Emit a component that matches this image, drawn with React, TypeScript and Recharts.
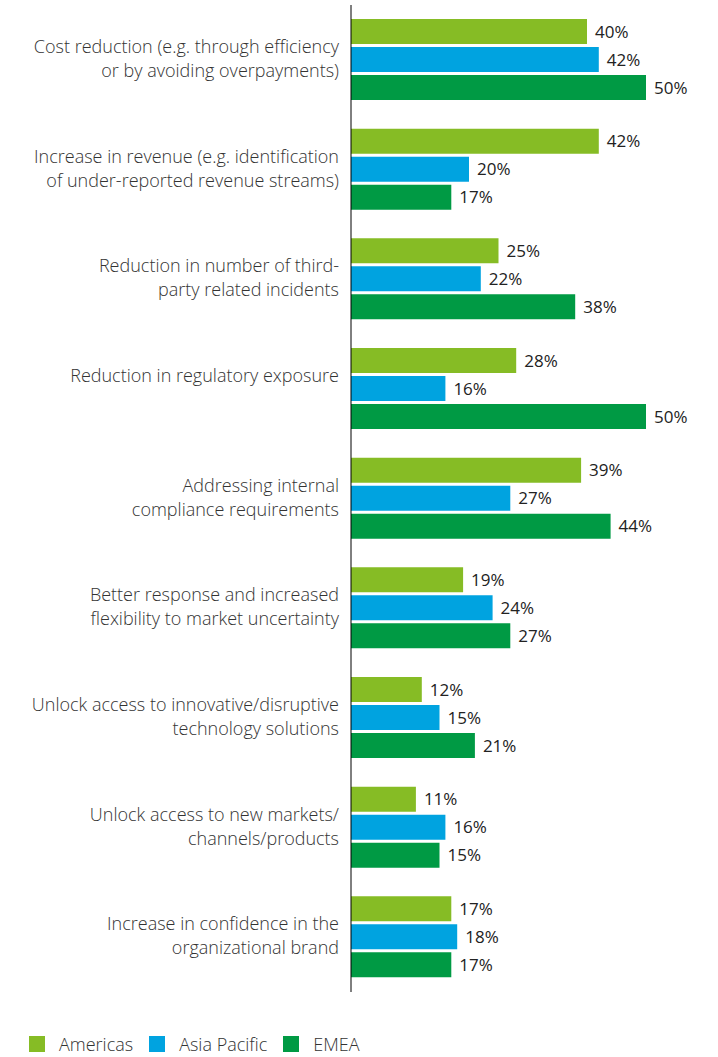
import { BarChart, Bar, XAxis, YAxis, LabelList } from 'recharts';

const categories = [
  'Cost reduction (e.g. through efficiency\nor by avoiding overpayments)',
  'Increase in revenue (e.g. identification\nof under-reported revenue streams)',
  'Reduction in number of third-\nparty related incidents',
  'Reduction in regulatory exposure',
  'Addressing internal\ncompliance requirements',
  'Better response and increased\nflexibility to market uncertainty',
  'Unlock access to innovative/disruptive\ntechnology solutions',
  'Unlock access to new markets/\nchannels/products',
  'Increase in confidence in the\norganizational brand',
];

const americas = [40, 42, 25, 28, 39, 19, 12, 11, 17];
const asiaPacific = [42, 20, 22, 16, 27, 24, 15, 16, 18];
const emea = [50, 17, 38, 50, 44, 27, 21, 15, 17];

const seriesNames = ['Americas', 'Asia Pacific', 'EMEA'];
const colors = ['#86BC25', '#00A3E0', '#009A44'];

const data = categories.map((name, i) => ({
  name,
  americas: americas[i],
  asiaPacific: asiaPacific[i],
  emea: emea[i],
}));

const FONT = '"Open Sans", sans-serif';

const CategoryTick = (props: any) => {
  const { x, y, payload } = props;
  const lines = String(payload.value).split('\n');
  return (
    <text
      x={x - 4}
      y={y}
      textAnchor="end"
      fontFamily={FONT}
      fontSize={18}
      fontWeight={300}
      fill="#333"
    >
      {lines.map((line, i) => (
        <tspan key={i} x={x - 4} y={y - 14 + i * 24} dominantBaseline="central">
          {line}
        </tspan>
      ))}
    </text>
  );
};

const pct = (v: any) => `${v}%`;

const App = () => {
  const keys = ['americas', 'asiaPacific', 'emea'];
  return (
    <div style={{ position: 'absolute', left: 0, top: 0, width: 718, height: 1057, background: '#fff', overflow: 'hidden' }}>
      <BarChart
        width={718}
        height={1000}
        data={data}
        layout="vertical"
        margin={{ top: 5, right: 13, left: 0, bottom: 8 }}
        barSize={25}
        barGap={3}
        barCategoryGap={15}
      >
        <XAxis type="number" domain={[0, 60]} hide />
        <YAxis
          type="category"
          dataKey="name"
          width={351}
          axisLine={{ stroke: '#000', strokeWidth: 1 }}
          tickLine={false}
          tick={<CategoryTick />}
          interval={0}
        />
        {keys.map((k, i) => (
          <Bar key={k} dataKey={k} name={seriesNames[i]} fill={colors[i]} isAnimationActive={false}>
            <LabelList
              dataKey={k}
              position="right"
              offset={8}
              formatter={pct}
              style={{ fontFamily: FONT, fontSize: 17, fill: '#222' }}
            />
          </Bar>
        ))}
      </BarChart>
      <div
        style={{
          position: 'absolute',
          top: 1036,
          left: 29,
          display: 'flex',
          alignItems: 'center',
          fontFamily: FONT,
          fontWeight: 300,
          fontSize: 18,
          lineHeight: '16px',
          color: '#333',
        }}
      >
        {seriesNames.map((n, i) => (
          <div key={n} style={{ display: 'flex', alignItems: 'center', marginRight: 16 }}>
            <span style={{ width: 16, height: 16, background: colors[i], display: 'inline-block', marginRight: 14 }} />
            <span>{n}</span>
          </div>
        ))}
      </div>
    </div>
  );
};

export default App;
